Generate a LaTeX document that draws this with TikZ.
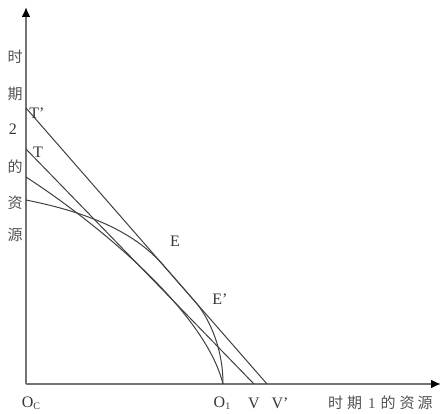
\documentclass[tikz,border=0pt]{standalone}
\usepackage{fontspec}
\setmainfont{Liberation Serif}
\newfontfamily\cjk{Noto Sans CJK SC}
\usetikzlibrary{arrows.meta,calc}
\begin{document}
\begin{tikzpicture}[x=1pt,y=-1pt,
  axis/.style={draw=black!55, line width=1.9pt, -{Latex[length=10pt,width=9pt,color=black]}},
  curve/.style={draw=black!75, line width=1pt},
  lbl/.style={inner sep=0pt, text=black!78, font=\fontsize{16}{16}\selectfont},
  cjklbl/.style={inner sep=0pt, text=black!68, font=\cjk\fontsize{15}{15}\selectfont}]
\useasboundingbox (0,0) rectangle (447,414);
\fill[white] (0,0) rectangle (447,414);
% points
\coordinate (Oc) at (26,384);
\coordinate (ytop) at (26,7);
\coordinate (xend) at (441,384);
\coordinate (Tp) at (26,108);
\coordinate (T) at (26,149);
\coordinate (A) at (26,177);
\coordinate (B) at (26,200);
\coordinate (O1) at (223,384);
\coordinate (V) at (254,384);
\coordinate (Vp) at (267,384);
\coordinate (E) at ($(Tp)!0.5685!(Vp)$);
\coordinate (Ep) at ($(Tp)!0.701!(Vp)$);
% axes
\draw[axis] (Oc) -- (ytop);
\draw[axis] (Oc) -- (xend);
% lines and curves
\draw[curve] (Tp) -- (Vp);
\draw[curve] (T) -- (V);
\draw[curve] (A) .. controls (96,222.5) and (205,311) .. (O1);
\draw[curve] (B) .. controls (86,212) and ($(Tp)!0.444!(Vp)$) .. (E) -- (Ep)
  .. controls ($(Tp)!0.751!(Vp)$) and (223,345) .. (O1);
% vertical axis label
\node[cjklbl] (y1) at (15,57) {时};
\node[cjklbl] (y2) at (15,94) {期};
\node[lbl] (y3) at (13,129) {2};
\node[cjklbl] (y4) at (15,167) {的};
\node[cjklbl] (y5) at (15,203) {资};
\node[cjklbl] (y6) at (15,235) {源};
% point labels
\node[lbl] (lTp) at (37,113) {T’};
\node[lbl] (lT) at (38,152) {T};
\node[lbl] (lE) at (175,241) {E};
\node[lbl] (lEp) at (220,299) {E’};
\node[lbl] (lOc) at (31,403) {O\raisebox{-2pt}{\fontsize{10}{10}\selectfont C}};
\node[lbl] (lO1) at (222,403) {O\raisebox{-2pt}{\fontsize{10}{10}\selectfont 1}};
\node[lbl] (lV) at (254,403) {V};
\node[lbl] (lVp) at (280,403) {V'};
\node[cjklbl, anchor=west] (xl) at (328,403) {时\kern4pt 期\kern6pt{\rmfamily 1}\kern5pt 的\kern4pt 资\kern3pt 源};
\end{tikzpicture}
\end{document}
